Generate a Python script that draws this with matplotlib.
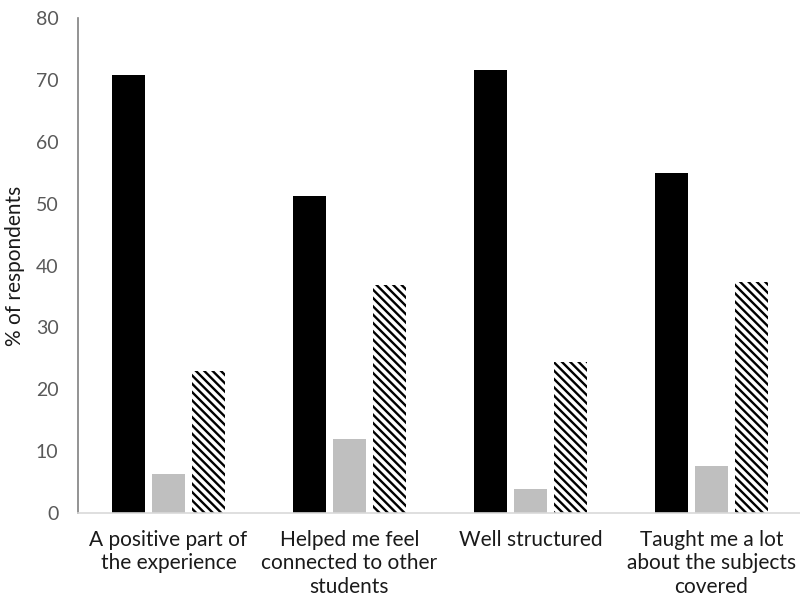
import numpy as np
import matplotlib
matplotlib.use("Agg")
import matplotlib.pyplot as plt

plt.rcParams['font.family'] = ['Lato', 'DejaVu Sans']
plt.rcParams['hatch.linewidth'] = 1.7

categories = ['A positive part of\nthe experience',
              'Helped me feel\nconnected to other\nstudents',
              'Well structured',
              'Taught me a lot\nabout the subjects\ncovered']
series_black = [70.8, 51.2, 71.6, 55.0]
series_grey = [6.3, 11.9, 3.9, 7.6]
series_hatch = [22.9, 36.8, 24.4, 37.3]

fig = plt.figure(figsize=(8, 6.07), dpi=100)
ax = fig.add_axes([0.0975, 0.155, 0.905, 0.815])

x = np.arange(len(categories))
w = 0.177
step = 0.221
ax.bar(x - step, series_black, w, color='black', edgecolor='none')
ax.bar(x, series_grey, w, color='#bfbfbf', edgecolor='none')
ax.bar(x + step, series_hatch, w, color='white', edgecolor='black',
       hatch='\\\\\\\\', linewidth=0)

ax.set_xlim(-0.5, len(categories) - 0.5)
ax.set_ylim(0, 80)
ax.set_yticks(range(0, 81, 10))
ax.set_xticks(x)
ax.set_xticklabels(categories, fontsize=15, color='#1a1a1a', linespacing=1.22)
ax.tick_params(axis='y', labelsize=14, labelcolor='#595959', length=0, pad=14)
ax.tick_params(axis='x', length=0, pad=12)
ax.set_ylabel('% of respondents', fontsize=15, color='#1a1a1a', labelpad=8)

for s in ['top', 'right']:
    ax.spines[s].set_visible(False)
ax.spines['left'].set_color('#808080')
ax.spines['left'].set_linewidth(1.2)
ax.spines['bottom'].set_color('#d9d9d9')
ax.spines['bottom'].set_linewidth(1.2)

fig.savefig('out.png', dpi=100)
